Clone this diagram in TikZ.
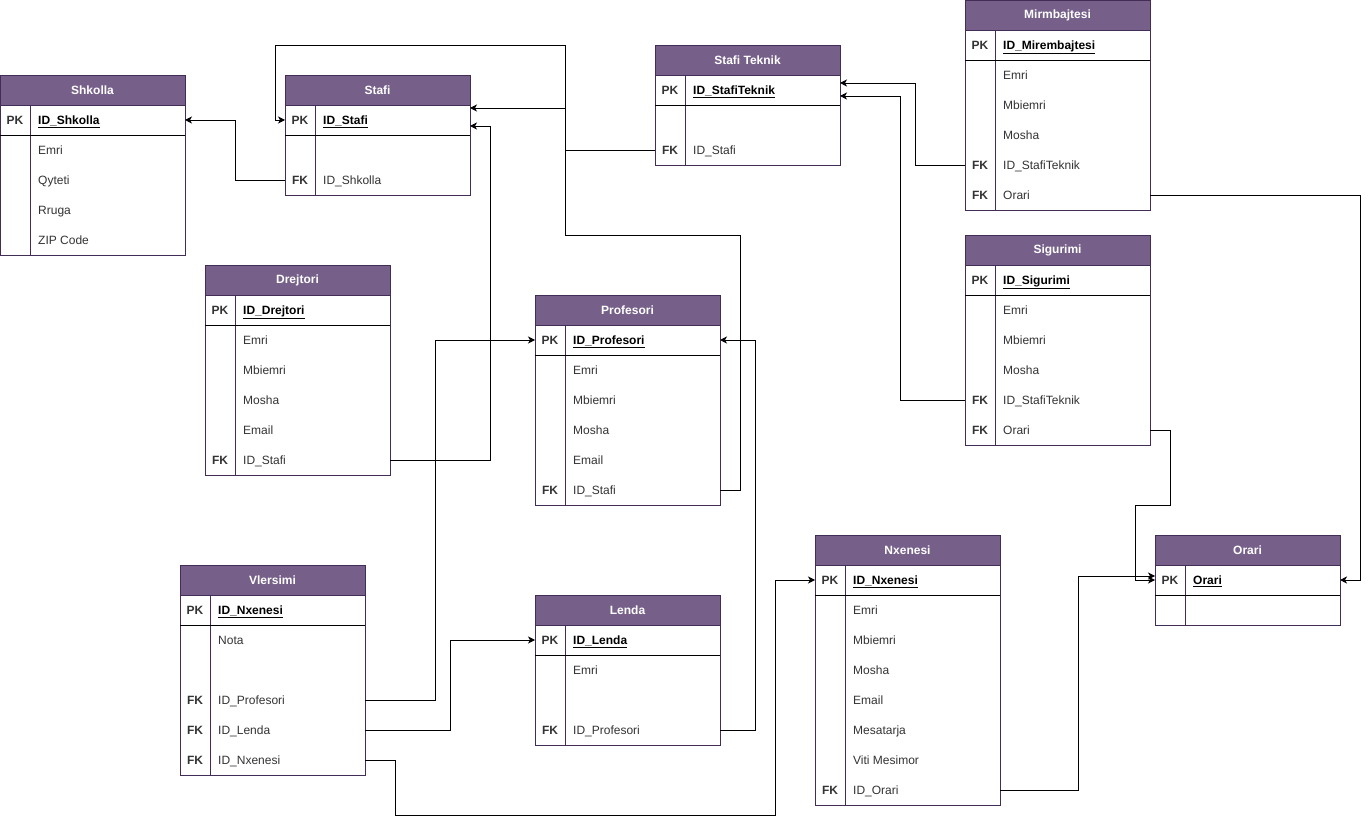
\documentclass[tikz,border=0pt]{standalone}
\usepackage{fontspec}
\setmainfont{Liberation Sans}
\usetikzlibrary{arrows.meta,calc}
\definecolor{hdrfill}{HTML}{76608A}
\definecolor{hdrline}{HTML}{432D57}
\definecolor{txt}{HTML}{333333}
\tikzset{
 hdr/.style={draw=hdrline, fill=hdrfill, text=white, font=\fontsize{12}{14}\selectfont\bfseries, minimum width=185pt, minimum height=30pt, inner sep=0pt, line width=0.8pt},
 frame/.style={draw=hdrline, line width=0.8pt},
 sep/.style={draw=black, line width=0.8pt},
 key/.style={font=\fontsize{12}{14}\selectfont\bfseries, text=txt, inner sep=0pt, text height=8.6pt, text depth=0pt},
 fld/.style={font=\fontsize{12}{14}\selectfont, anchor=west, inner sep=0pt, text=txt, text height=8.6pt, text depth=0pt},
 pkf/.style={font=\fontsize{12}{14}\selectfont\bfseries, anchor=west, inner sep=0pt, text=black, text height=8.6pt, text depth=0pt},
 fk/.style={draw=black, line width=0.8pt, -{Stealth[length=7pt,width=7pt,inset=2pt]}},
}
% #1 id, #2 x, #3 top y, #4 title, #5 pk field, #6 number of rows, #7 rows
\newcommand\ertab[7]{%
 \node[hdr] (#1) at (#2+92.5,#3+15) {#4};
 \draw[frame] (#2,#3+30) rectangle (#2+185,#3+60+30*#6);
 \draw[frame] (#2+30,#3+30) -- (#2+30,#3+60+30*#6);
 \draw[sep] (#2,#3+60) -- (#2+185,#3+60);
 \node[key] (#1-kpk) at (#2+15,#3+45) {PK};
 \node[pkf] (#1-pk) at (#2+38,#3+45) {\underline{#5}};
 \coordinate (#1-Lpk) at (#2,#3+45);
 \coordinate (#1-Rpk) at (#2+185,#3+45);
 \foreach \k/\f [count=\i] in {#7} {
   \node[key] (#1-k\i) at (#2+15,#3+45+30*\i) {\k};
   \node[fld] (#1-f\i) at (#2+38,#3+45+30*\i) {\f};
   \coordinate (#1-L\i) at (#2,#3+45+30*\i);
   \coordinate (#1-R\i) at (#2+185,#3+45+30*\i);
 }
}
\begin{document}
\begin{tikzpicture}[x=1pt,y=-1pt]
\useasboundingbox (0,0) rectangle (1371,826);
\fill[white] (0,0) rectangle (1371,826);

\ertab{shkolla}{0}{75}{Shkolla}{ID\_Shkolla}{4}{{}/Emri, {}/Qyteti, {}/Rruga, {}/ZIP Code}
\ertab{stafi}{285}{75}{Stafi}{ID\_Stafi}{2}{{}/{}, FK/ID\_Shkolla}
\ertab{stafit}{655}{45}{Stafi Teknik}{ID\_StafiTeknik}{2}{{}/{}, FK/ID\_Stafi}
\ertab{mirm}{965}{0}{Mirmbajtesi}{ID\_Mirembajtesi}{5}{{}/Emri, {}/Mbiemri, {}/Mosha, FK/ID\_StafiTeknik, FK/Orari}
\ertab{drej}{205}{265}{Drejtori}{ID\_Drejtori}{5}{{}/Emri, {}/Mbiemri, {}/Mosha, {}/Email, FK/ID\_Stafi}
\ertab{prof}{535}{295}{Profesori}{ID\_Profesori}{5}{{}/Emri, {}/Mbiemri, {}/Mosha, {}/Email, FK/ID\_Stafi}
\ertab{sig}{965}{235}{Sigurimi}{ID\_Sigurimi}{5}{{}/Emri, {}/Mbiemri, {}/Mosha, FK/ID\_StafiTeknik, FK/Orari}
\ertab{vl}{180}{565}{Vlersimi}{ID\_Nxenesi}{5}{{}/Nota, {}/{}, FK/ID\_Profesori, FK/ID\_Lenda, FK/ID\_Nxenesi}
\ertab{lenda}{535}{595}{Lenda}{ID\_Lenda}{3}{{}/Emri, {}/{}, FK/ID\_Profesori}
\ertab{nx}{815}{535}{Nxenesi}{ID\_Nxenesi}{7}{{}/Emri, {}/Mbiemri, {}/Mosha, {}/Email, {}/Mesatarja, {}/Viti Mesimor, FK/ID\_Orari}
\ertab{orari}{1155}{535}{Orari}{Orari}{1}{{}/{}}

% connectors
\draw[fk] (stafi-L2) -- (235,180) -- (235,120) -- (shkolla-Rpk);
\draw[fk] (stafit-L2) -- (565,150) -- (565,45) -- (275,45) -- (275,120) -- (stafi-Lpk);
\draw[fk] (prof-R5) -- (740,490) -- (740,235) -- (565,235) -- (565,108) -- ($(stafi-Rpk)+(0,-12)$);
\draw[fk] (drej-R5) -- (490,460) -- (490,126) -- ($(stafi-Rpk)+(0,6)$);
\draw[fk] (mirm-L4) -- (915,165) -- (915,83) -- ($(stafit-Rpk)+(0,-7)$);
\draw[fk] (sig-L4) -- (900,400) -- (900,96) -- ($(stafit-Rpk)+(0,6)$);
\draw[fk] (mirm-R5) -- (1360,195) -- (1360,580) -- (orari-Rpk);
\draw[fk] (sig-R5) -- (1170,430) -- (1170,505) -- (1135,505) -- (1135,580) -- (orari-Lpk);
\draw[fk] (nx-R7) -- (1078,790) -- (1078,576) -- ($(orari-Lpk)+(0,-4)$);
\draw[fk] (vl-R3) -- (435,700) -- (435,340) -- (prof-Lpk);
\draw[fk] (vl-R4) -- (450,730) -- (450,640) -- (lenda-Lpk);
\draw[fk] (vl-R5) -- (395,760) -- (395,815) -- (775,815) -- (775,580) -- (nx-Lpk);
\draw[fk] (lenda-R3) -- (755,730) -- (755,340) -- (prof-Rpk);
\end{tikzpicture}
\end{document}
